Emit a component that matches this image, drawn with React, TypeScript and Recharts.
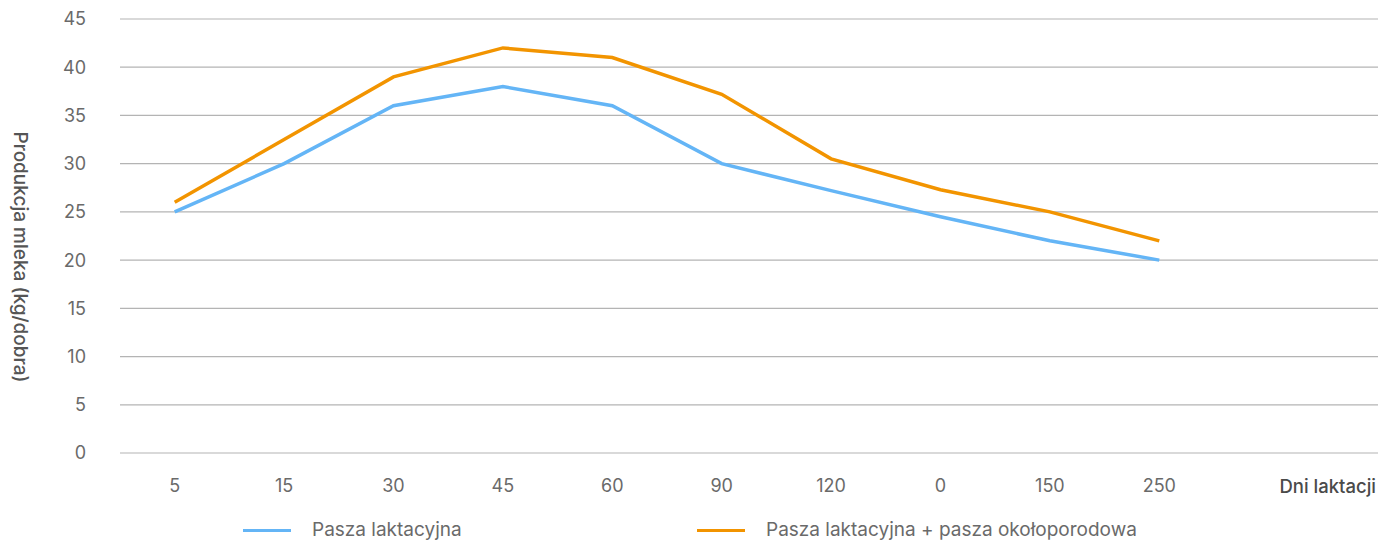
import { LineChart, Line, XAxis, YAxis, CartesianGrid, Legend } from 'recharts'

const days = ['5', '15', '30', '45', '60', '90', '120', '0', '150', '250']
const paszaLaktacyjna = [25, 30, 36, 38, 36, 30, 27.2, 24.5, 22, 20]
const paszaOkoloporodowa = [26, 32.5, 39, 42, 41, 37.2, 30.5, 27.3, 25, 22]
const yTicks = [0, 5, 10, 15, 20, 25, 30, 35, 40, 45]

const BLUE = '#64b5f6'
const ORANGE = '#f29400'
const FONT = 'Inter, "Noto Sans", sans-serif'

const data = days.map((d, i) => ({
  day: d,
  laktacyjna: paszaLaktacyjna[i],
  okoloporodowa: paszaOkoloporodowa[i],
}))

function LegendBox() {
  const items = [
    { label: 'Pasza laktacyjna', color: BLUE },
    { label: 'Pasza laktacyjna + pasza okołoporodowa', color: ORANGE },
  ]
  return (
    <div style={{ display: 'flex', alignItems: 'center', height: 24, paddingLeft: 243, fontFamily: FONT }}>
      {items.map((it) => (
        <div key={it.label} style={{ display: 'flex', alignItems: 'center', width: 454 }}>
          <span style={{ display: 'inline-block', width: 48, height: 3, background: it.color, marginRight: 21 }} />
          <span style={{ fontSize: 19, lineHeight: '24px', color: '#6a6a6a', whiteSpace: 'nowrap' }}>{it.label}</span>
        </div>
      ))}
    </div>
  )
}

export default function App() {
  return (
    <div style={{ width: 1378, height: 542, overflow: 'hidden' }}>
      <style>{'body { margin: 0; }'}</style>
      <LineChart width={1378} height={542} data={data} margin={{ top: 19, right: 0, bottom: 0, left: 0 }}>
        <CartesianGrid vertical={false} stroke="#b4b4b4" strokeWidth={1.2} />
        <XAxis
          dataKey="day"
          scale="band"
          axisLine={false}
          tickLine={false}
          height={65}
          tickMargin={20}
          padding={{ left: 0, right: 164 }}
          tick={{ fontSize: 18, fill: '#6a6a6a', fontFamily: FONT }}
          interval={0}
          label={{
            content: () => (
              <text x={1376} y={486} textAnchor="end" dominantBaseline="central"
                style={{ fontSize: 18.5, fill: '#4a4a4a', fontWeight: 500, fontFamily: FONT }}>
                Dni laktacji
              </text>
            ),
          }}
        />
        <YAxis
          domain={[0, 45]}
          ticks={yTicks}
          width={120}
          axisLine={false}
          tickLine={false}
          tickMargin={28}
          tick={{ fontSize: 18, fill: '#6a6a6a', fontFamily: FONT }}
          label={{
            content: () => (
              <text x={20} y={257} textAnchor="middle" dominantBaseline="central" transform="rotate(90 20 257)"
                style={{ fontSize: 19, fill: '#555', fontWeight: 500, fontFamily: FONT }}>
                Produkcja mleka (kg/dobra)
              </text>
            ),
          }}
        />
        <Legend content={() => <LegendBox />} wrapperStyle={{ top: 518, bottom: 'auto', left: 0, width: 1378, height: 24 }} />
        <Line dataKey="laktacyjna" name="Pasza laktacyjna" stroke={BLUE} strokeWidth={3.5} dot={false} isAnimationActive={false} />
        <Line dataKey="okoloporodowa" name="Pasza laktacyjna + pasza okołoporodowa" stroke={ORANGE} strokeWidth={3.5} dot={false} isAnimationActive={false} />
      </LineChart>
    </div>
  )
}
